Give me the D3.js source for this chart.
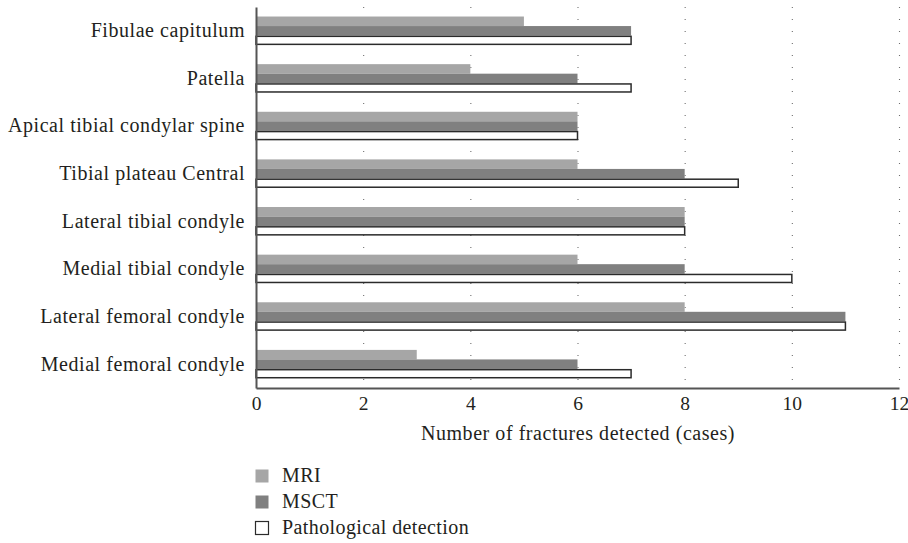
<!DOCTYPE html>
<html>
<head>
<meta charset="utf-8">
<script src="https://cdn.jsdelivr.net/npm/d3@7"></script>
<style>
  body { margin: 0; background: #fff; }
  text { font-family: "Liberation Serif", "DejaVu Serif", serif; fill: #231f20; }
</style>
</head>
<body>
<svg id="chart" width="908" height="543"></svg>
<script>
// categories top to bottom
const categories = ["Fibulae capitulum", "Patella", "Apical tibial condylar spine",
  "Tibial plateau Central", "Lateral tibial condyle", "Medial tibial condyle",
  "Lateral femoral condyle", "Medial femoral condyle"];
const seriesNames = ["MRI", "MSCT", "Pathological detection"];
const mri  = [5, 4, 6, 6, 8, 6, 8, 3];
const msct = [7, 6, 6, 8, 8, 8, 11, 6];
const path = [7, 7, 6, 9, 8, 10, 11, 7];
const xTicks = [0, 2, 4, 6, 8, 10, 12];

const colors = ["#a6a6a6", "#808080", "#ffffff"];
const values = [mri, msct, path];

const svg = d3.select("#chart");
const plotLeft = 256, plotRight = 899, plotTop = 7, plotBottom = 388;

const x = d3.scaleLinear().domain([0, 12]).range([plotLeft, plotRight]);
const y = d3.scaleBand().domain(categories).range([plotTop, plotBottom]).paddingInner(0.4).paddingOuter(0.2);
const sub = d3.scaleBand().domain(seriesNames).range([0, y.bandwidth()]);

// dotted vertical grid
svg.append("g")
  .selectAll("line")
  .data(xTicks.slice(1))
  .enter().append("line")
    .attr("x1", d => x(d) + 0.5).attr("x2", d => x(d) + 0.5)
    .attr("y1", plotTop).attr("y2", plotBottom)
    .attr("stroke", "#6f6f6f")
    .attr("stroke-width", 1.1)
    .attr("stroke-dasharray", "1.1,10.9");

// bars
const groups = svg.append("g")
  .selectAll("g")
  .data(categories)
  .enter().append("g")
    .attr("transform", d => "translate(0," + y(d) + ")");

groups.selectAll("rect")
  .data((c, i) => seriesNames.map((s, j) => ({ s: s, v: values[j][i], j: j })))
  .enter().append("rect")
    .attr("x", x(0))
    .attr("y", d => sub(d.s) + (d.j == 2 ? 0.75 : 0))
    .attr("width", d => x(d.v) - x(0))
    .attr("height", d => sub.bandwidth() - (d.j == 2 ? 1.5 : 0))
    .attr("fill", d => colors[d.j])
    .attr("stroke", d => d.j == 2 ? "#2b2b2b" : "none")
    .attr("stroke-width", 1.5);

// x axis
const xAxis = d3.axisBottom(x).tickValues(xTicks).tickSize(0).tickPadding(8);
const gx = svg.append("g")
  .attr("transform", "translate(0," + plotBottom + ")")
  .call(xAxis);
gx.select(".domain").attr("stroke", "#555").attr("stroke-width", 2);
gx.selectAll("text").style("font-size", "19.5px");

// y axis
const yAxis = d3.axisLeft(y).tickSize(0).tickPadding(11);
const gy = svg.append("g")
  .attr("transform", "translate(" + plotLeft + ",0)")
  .call(yAxis);
gy.select(".domain").attr("stroke", "#555").attr("stroke-width", 2);
gy.selectAll("text").style("font-size", "20px").style("letter-spacing", "0.55px");

// axis title
svg.append("text")
  .attr("x", 578).attr("y", 440)
  .attr("text-anchor", "middle")
  .style("font-size", "20px")
  .style("letter-spacing", "0.55px")
  .text("Number of fractures detected (cases)");

// legend
const legend = svg.append("g")
  .selectAll("g")
  .data(seriesNames)
  .enter().append("g")
    .attr("transform", (d, i) => "translate(255," + (469 + i * 26) + ")");
legend.append("rect")
  .attr("x", 0.5).attr("y", 0.5)
  .attr("width", 13).attr("height", 13)
  .attr("fill", (d, i) => colors[i])
  .attr("stroke", (d, i) => i == 2 ? "#2b2b2b" : "none")
  .attr("stroke-width", 1.2);
legend.append("text")
  .attr("x", 27).attr("y", 13)
  .style("font-size", "20px")
  .style("letter-spacing", "0.4px")
  .text(d => d);
</script>
</body>
</html>
